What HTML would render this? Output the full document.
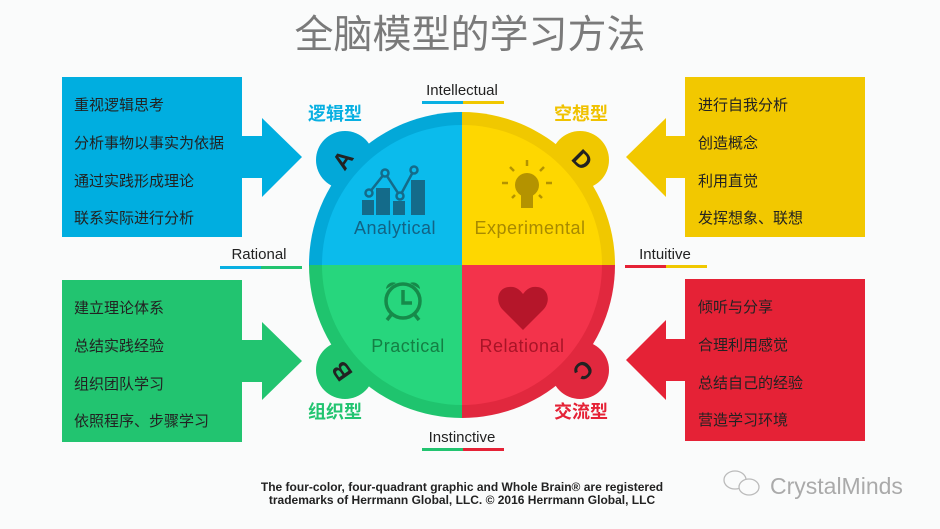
<!DOCTYPE html>
<html><head><meta charset="utf-8"><style>
html,body{margin:0;padding:0;background:#fafbfb;}
svg{display:block;}
text{font-family:"Liberation Sans","Noto Sans CJK SC",sans-serif;}
</style></head><body>
<svg width="940" height="529" viewBox="0 0 940 529" xmlns="http://www.w3.org/2000/svg">
<rect width="940" height="529" fill="#fafbfb"/>
<text x="470" y="48" text-anchor="middle" font-size="39" fill="#7a7a7a">全脑模型的学习方法</text>

<rect x="62" y="77" width="180" height="160" fill="#00aee0"/>
<polygon points="240,136 262,136 262,118 302,157 262,197 262,178 240,178" fill="#00aee0"/>
<rect x="62" y="280" width="180" height="162" fill="#22c470"/>
<polygon points="240,340 262,340 262,322 302,361 262,400 262,382 240,382" fill="#22c470"/>
<rect x="685" y="77" width="180" height="160" fill="#f2c800"/>
<polygon points="687,136 666,136 666,118 626,157 666,197 666,178 687,178" fill="#f2c800"/>
<rect x="685" y="279" width="180" height="162" fill="#e52236"/>
<polygon points="687,339 666,339 666,320 626,360 666,400 666,381 687,381" fill="#e52236"/>

<g font-size="15" fill="#222">
<text x="74" y="110">重视逻辑思考</text>
<text x="74" y="148">分析事物以事实为依据</text>
<text x="74" y="186">通过实践形成理论</text>
<text x="74" y="223">联系实际进行分析</text>
<text x="74" y="313">建立理论体系</text>
<text x="74" y="351">总结实践经验</text>
<text x="74" y="389">组织团队学习</text>
<text x="74" y="426">依照程序、步骤学习</text>
<text x="698" y="110">进行自我分析</text>
<text x="698" y="148">创造概念</text>
<text x="698" y="186">利用直觉</text>
<text x="698" y="223">发挥想象、联想</text>
<text x="698" y="312">倾听与分享</text>
<text x="698" y="350">合理利用感觉</text>
<text x="698" y="388">总结自己的经验</text>
<text x="698" y="425">营造学习环境</text>
</g>

<defs>
<clipPath id="tl"><rect x="300" y="100" width="162" height="165"/></clipPath>
<clipPath id="tr"><rect x="462" y="100" width="170" height="165"/></clipPath>
<clipPath id="bl"><rect x="300" y="265" width="162" height="170"/></clipPath>
<clipPath id="br"><rect x="462" y="265" width="170" height="170"/></clipPath>
</defs>
<g clip-path="url(#tl)"><circle cx="462" cy="265" r="153" fill="#03a8d8"/><circle cx="345" cy="160" r="29" fill="#03a8d8"/><circle cx="462" cy="265" r="140" fill="#0bbbec"/></g>
<g clip-path="url(#tr)"><circle cx="462" cy="265" r="153" fill="#f0c800"/><circle cx="580" cy="160" r="29" fill="#f0c800"/><circle cx="462" cy="265" r="140" fill="#fed700"/></g>
<g clip-path="url(#bl)"><circle cx="462" cy="265" r="153" fill="#1fc46e"/><circle cx="345" cy="370" r="29" fill="#1fc46e"/><circle cx="462" cy="265" r="140" fill="#27d67d"/></g>
<g clip-path="url(#br)"><circle cx="462" cy="265" r="153" fill="#e1283e"/><circle cx="580" cy="370" r="29" fill="#e1283e"/><circle cx="462" cy="265" r="140" fill="#f3334b"/></g>

<g font-size="24" font-weight="bold" fill="#222">
<text x="343" y="168" text-anchor="middle" transform="rotate(-55 343 160)">A</text>
<text x="582" y="168" text-anchor="middle" transform="rotate(45 582 160)">D</text>
<text x="342" y="379" text-anchor="middle" transform="rotate(-125 342 371)">B</text>
<text x="583" y="378" text-anchor="middle" transform="rotate(135 583 370)">C</text>
</g>

<g fill="#146b8a">
<rect x="362" y="200" width="12" height="15"/><rect x="376" y="188" width="14" height="27"/><rect x="393" y="201" width="12" height="14"/><rect x="411" y="180" width="14" height="35"/>
</g>
<polyline points="369,193 385,173 400,196 414,170" fill="none" stroke="#146b8a" stroke-width="2.5"/>
<g fill="#0bbbec" stroke="#146b8a" stroke-width="2.5"><circle cx="369" cy="193" r="3.5"/><circle cx="385" cy="173" r="3.5"/><circle cx="400" cy="196" r="3.5"/><circle cx="414" cy="170" r="3.5"/></g>
<g fill="#b49300" stroke="#b49300" stroke-width="2.5">
<circle cx="527" cy="185" r="12" stroke="none"/><rect x="521" y="193" width="12" height="15" stroke="none"/>
<line x1="502" y1="183" x2="508" y2="183"/><line x1="546" y1="183" x2="552" y2="183"/><line x1="527" y1="160" x2="527" y2="166"/>
<line x1="510" y1="167" x2="514" y2="171"/><line x1="544" y1="167" x2="540" y2="171"/><line x1="512" y1="198" x2="515" y2="195"/><line x1="542" y1="198" x2="539" y2="195"/>
</g>
<g fill="none" stroke="#168a4a" stroke-width="3.5">
<circle cx="403" cy="301" r="17"/><polyline points="403,290 403,303 412,303"/>
<line x1="391" y1="315" x2="387" y2="320"/><line x1="415" y1="315" x2="419" y2="320"/>
</g>
<path d="M386,289 a7,7 0 0 1 10,-6 z M420,289 a7,7 0 0 0 -10,-6 z" fill="#168a4a"/>
<path d="M523,330 L503,310 C495,302 497,288 509,287 C516,286 520,290 523,294 C526,290 530,286 537,287 C549,288 551,302 543,310 Z" fill="#b5162a"/>

<g font-size="18" letter-spacing="0.5">
<text x="395" y="234" text-anchor="middle" fill="#126385">Analytical</text>
<text x="530" y="234" text-anchor="middle" fill="#a88a00">Experimental</text>
<text x="408" y="352" text-anchor="middle" fill="#147f44">Practical</text>
<text x="522" y="352" text-anchor="middle" fill="#a81427">Relational</text>
</g>

<g font-size="18" font-weight="bold">
<text x="335" y="120" text-anchor="middle" fill="#09b0e2">逻辑型</text>
<text x="581" y="120" text-anchor="middle" fill="#f0c200">空想型</text>
<text x="335" y="418" text-anchor="middle" fill="#22c470">组织型</text>
<text x="581" y="418" text-anchor="middle" fill="#e52236">交流型</text>
</g>

<g font-size="15" fill="#222">
<text x="462" y="95" text-anchor="middle">Intellectual</text>
<text x="259" y="259" text-anchor="middle">Rational</text>
<text x="665" y="259" text-anchor="middle">Intuitive</text>
<text x="462" y="442" text-anchor="middle">Instinctive</text>
</g>
<rect x="422" y="101" width="41" height="3" fill="#09b0e2"/><rect x="463" y="101" width="41" height="3" fill="#f0c800"/>
<rect x="220" y="266" width="41" height="3" fill="#09b0e2"/><rect x="261" y="266" width="41" height="3" fill="#22c470"/>
<rect x="625" y="265" width="41" height="3" fill="#e52236"/><rect x="666" y="265" width="41" height="3" fill="#f0c800"/>
<rect x="422" y="448" width="41" height="3" fill="#22c470"/><rect x="463" y="448" width="41" height="3" fill="#e52236"/>

<g font-size="12" fill="#222" text-anchor="middle" font-weight="bold">
<text x="462" y="491">The four-color, four-quadrant graphic and Whole Brain® are registered</text>
<text x="462" y="504">trademarks of Herrmann Global, LLC. © 2016 Herrmann Global, LLC</text>
</g>

<g fill="none" stroke="#bbb" stroke-width="1.3">
<ellipse cx="735" cy="480" rx="11" ry="9"/><ellipse cx="749" cy="487" rx="10" ry="8" fill="#fafbfb"/>
</g>
<text x="770" y="494" font-size="23" fill="#aaa">CrystalMinds</text>
</svg>
</body></html>
